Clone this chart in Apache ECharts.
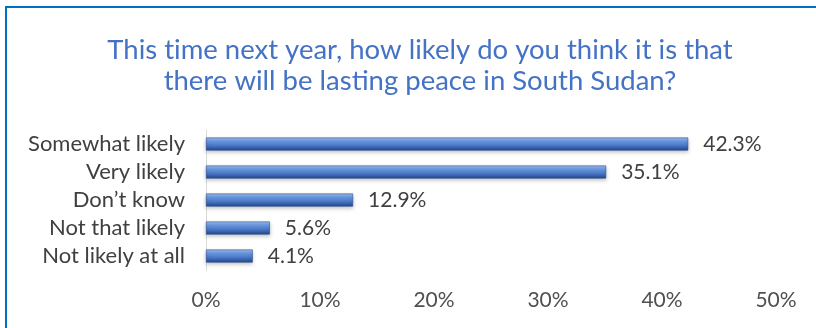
<!DOCTYPE html>
<html>
<head>
<meta charset="utf-8">
<script src="https://cdn.jsdelivr.net/npm/echarts@6/dist/echarts.min.js"></script>
<style>
  html, body { margin: 0; padding: 0; background: #ffffff; }
  #chart { width: 816px; height: 328px; }
</style>
</head>
<body>
<div id="chart"></div>
<script>
// Survey answers, top to bottom
const categories = ['Somewhat likely', 'Very likely', 'Don\u2019t know', 'Not that likely', 'Not likely at all'];
const shares = [42.3, 35.1, 12.9, 5.6, 4.1];
const tickValues = [0, 10, 20, 30, 40, 50];

const FONT = 'Lato, "Open Sans", sans-serif';
const chart = echarts.init(document.getElementById('chart'), null, { renderer: 'canvas' });

const barFill = new echarts.graphic.LinearGradient(0, 0, 0, 1, [
  { offset: 0, color: '#9cc0ee' },
  { offset: 0.25, color: '#6f9be0' },
  { offset: 0.6, color: '#4a78c8' },
  { offset: 1, color: '#21468a' }
]);

// zero-width non-joiner keeps "ti" from turning into a ligature in Lato
const titleText = 'This t\u200Cime next year, how likely do you think it is that\nthere will be lasting peace in South Sudan?';

chart.setOption({
  animation: false,
  title: {
    text: titleText,
    left: 415,
    top: 30,
    textAlign: 'center',
    textStyle: {
      color: '#4472c4',
      fontFamily: FONT,
      fontSize: 27.5,
      fontWeight: 'normal',
      lineHeight: 31
    }
  },
  graphic: [{
    type: 'rect',
    shape: { x: 6, y: 7, width: 830, height: 340 },
    style: { fill: 'none', stroke: '#0070c0', lineWidth: 2 },
    silent: true
  }],
  grid: { left: 206, right: 40, top: 130, height: 140, containLabel: false },
  xAxis: {
    type: 'value',
    min: 0,
    max: 50,
    interval: 10,
    axisLine: { show: false },
    axisTick: { show: false },
    splitLine: { show: false },
    axisLabel: {
      margin: 20,
      color: '#505050',
      fontFamily: FONT,
      fontSize: 21,
      formatter: v => tickValues.includes(v) ? v + '%' : ''
    }
  },
  yAxis: {
    type: 'category',
    inverse: true,
    data: categories,
    axisLine: { show: true, lineStyle: { color: '#d9d9d9', width: 1 } },
    axisTick: { show: false },
    axisLabel: {
      interval: 0,
      hideOverlap: false,
      margin: 21,
      color: '#404040',
      fontFamily: FONT,
      fontSize: 22
    }
  },
  series: [{
    type: 'bar',
    data: shares,
    barWidth: 13,
    itemStyle: {
      color: barFill,
      borderColor: '#2a4f8f',
      borderWidth: 0.6,
      shadowColor: 'rgba(0,0,0,0.25)',
      shadowBlur: 4,
      shadowOffsetY: 2
    },
    label: {
      show: true,
      position: 'right',
      distance: 15,
      color: '#404040',
      fontFamily: FONT,
      fontSize: 21,
      formatter: p => p.value.toFixed(1) + '%'
    }
  }]
});
</script>
</body>
</html>
